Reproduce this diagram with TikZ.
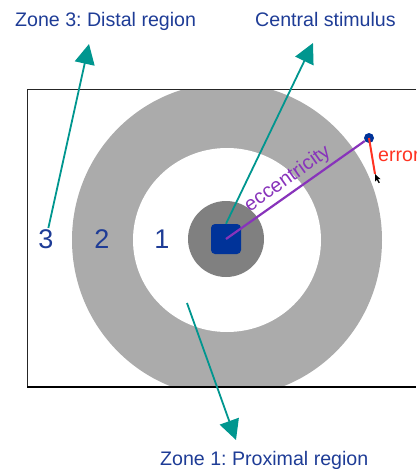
\documentclass[tikz,border=0pt]{standalone}
\usepackage{fontspec}
\setmainfont{Liberation Sans}
\usetikzlibrary{arrows.meta}
\definecolor{ringgray}{HTML}{ABABAB}
\definecolor{darkgray2}{HTML}{808080}
\definecolor{sqblue}{HTML}{003399}
\definecolor{txtblue}{HTML}{1E3C96}
\definecolor{teal2}{HTML}{00968F}
\definecolor{purp}{HTML}{8833BB}
\definecolor{redd}{HTML}{FF3322}
\frenchspacing
\tikzset{
  lbl/.style={text=txtblue, font=\fontsize{19.6}{23}\selectfont, inner sep=0pt},
  digit/.style={text=txtblue, font=\fontsize{27}{30}\selectfont, inner sep=1pt},
  arr/.style={draw=teal2, line width=1.8pt, -{Triangle[length=20pt,width=20pt]}},
}
\begin{document}
\begin{tikzpicture}[x=1pt,y=-1pt]
\useasboundingbox (0,0) rectangle (416,469);
\begin{scope}
\clip (0,0) rectangle (416,469);
% ring clipped to the frame
\begin{scope}
\clip (27,89) rectangle (420,387);
\fill[ringgray] (227,240) ellipse [x radius=155, y radius=157];
\fill[white] (227,240) ellipse [x radius=94, y radius=92];
\end{scope}
% frame
\draw[black!85, line width=1pt] (416,89) -- (27,89) -- (27,387);
\draw[black, line width=2.4pt] (27,387) -- (416,387);
% central disc and stimulus
\fill[darkgray2] (226,239) circle [radius=38];
\node (sq) [fill=sqblue, draw=none, rounded corners=4pt, minimum size=30pt, inner sep=0pt] at (226,239) {};
\node (dot) [circle, fill=sqblue, minimum size=10pt, inner sep=0pt] at (369,138) {};
\coordinate (cur) at (375,174);
% eccentricity
\draw[purp, line width=2.2pt] (sq.center) -- node[sloped, above, text=purp, font=\fontsize{20}{22}\selectfont, inner sep=3pt] {eccentricity} (dot);
% error
\draw[redd, line width=2pt] (dot.center) -- (cur);
\fill[black] (cur) -- ++(0,7.5) -- ++(1.8,-1.8) -- ++(1.8,3.4) -- ++(1.2,-0.6) -- ++(-1.8,-3.3) -- ++(2.6,0) -- cycle;
\node (err) [anchor=base west, text=redd, font=\fontsize{19.6}{23}\selectfont, inner sep=0pt] at (378,161) {error};
% labels
\node (z3) [lbl, anchor=base west] at (15,26) {Zone 3: Distal region};
\node (cs) [lbl, anchor=base west] at (255,26) {Central stimulus};
\node (z1) [lbl, anchor=base west] at (160,465) {Zone 1: Proximal region};
\node (n3) [digit, anchor=base] at (46,248) {3};
\node (n2) [digit, anchor=base] at (102,248) {2};
\node (n1) [digit, anchor=base] at (162,248) {1};
% arrows
\coordinate (t3) at (89,44);
\coordinate (tcs) at (313,43);
\coordinate (s1) at (187,303);
\coordinate (t1) at (236,440);
\draw[arr] (n3) -- (t3);
\draw[arr] (sq.north) -- (tcs);
\draw[arr] (s1) -- (t1);
\end{scope}
\end{tikzpicture}
\end{document}
